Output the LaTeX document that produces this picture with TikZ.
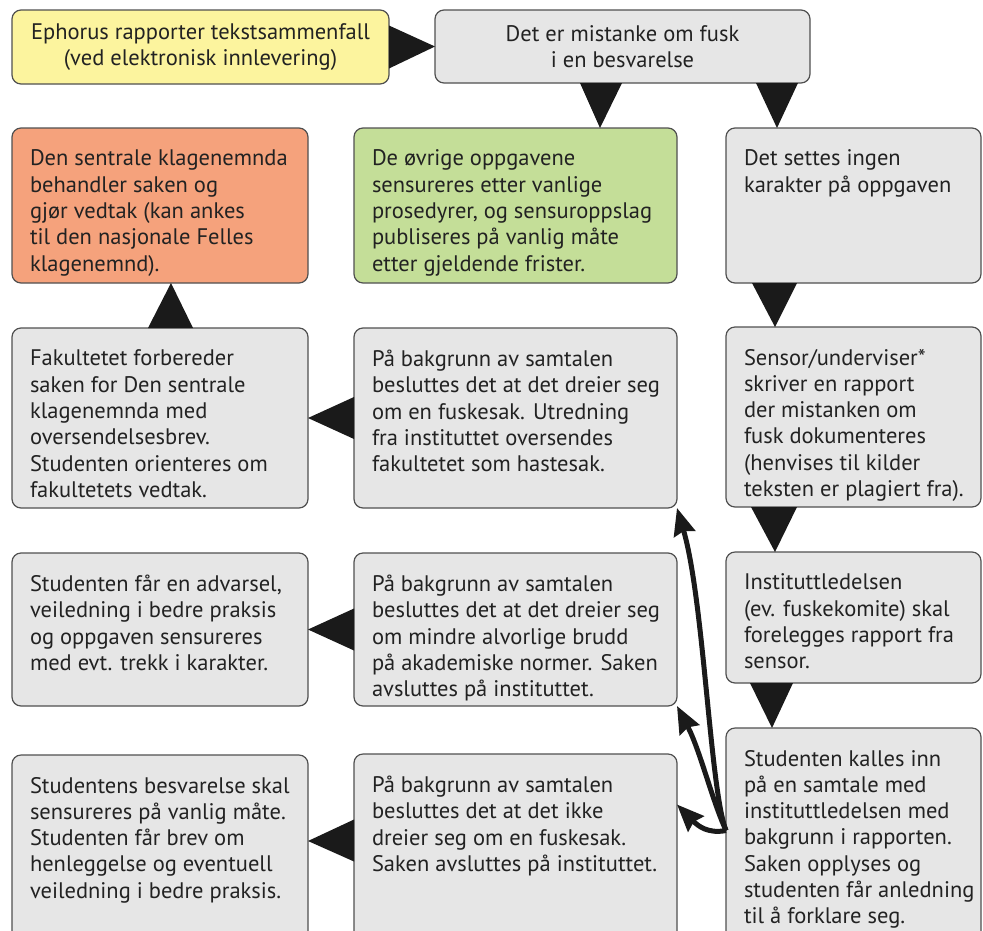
\documentclass[tikz,border=0pt]{standalone}
\usepackage{fontspec}
\setmainfont{PT Sans}
\usetikzlibrary{arrows.meta}
\definecolor{boxgray}{HTML}{E6E6E6}
\definecolor{boxline}{HTML}{505050}
\definecolor{boxyellow}{HTML}{FCF49E}
\definecolor{boxorange}{HTML}{F5A27C}
\definecolor{boxgreen}{HTML}{C4DE98}
\definecolor{txt}{HTML}{222222}
\definecolor{tri}{HTML}{1A1A1A}
\tikzset{
  base/.style={draw=boxline, line width=1.2pt, rounded corners=9pt, inner sep=0pt, outer sep=0pt,
    font=\fontsize{22.5}{26.3}\selectfont, text=txt},
  graybox/.style={base, fill=boxgray},
  yellowbox/.style={base, fill=boxyellow, align=center},
  orangebox/.style={base, fill=boxorange},
  greenbox/.style={base, fill=boxgreen},
  centerbox/.style={base, fill=boxgray, align=center},
  wedge/.style={fill=tri, draw=none},
  curvearrow/.style={draw=tri, line width=5pt, -{Stealth[length=27pt,width=22pt,inset=3pt]}}
}
% style, name, x1, y1, x2, y2, text (top-left aligned)
\newcommand\flowbox[7]{%
  \node[#1, anchor=north west, minimum width={(#5-#3)*1pt}, minimum height={(#6-#4)*1pt}] (#2) at (#3,#4)
  {\hspace*{18pt}\parbox[c][\dimexpr#6pt-#4pt-44pt\relax][t]{\dimexpr#5pt-#3pt-18pt\relax}{\raggedright #7}};}
\newcommand\centerflowbox[7]{%
  \node[#1, anchor=north west, minimum width={(#5-#3)*1pt}, minimum height={(#6-#4)*1pt}] (#2) at (#3,#4) {#7};}
\begin{document}
\begin{tikzpicture}[x=1pt, y=-1pt]
\clip (0,0) rectangle (983,930);
\fill[white] (0,0) rectangle (983,930);

\centerflowbox{yellowbox}{ephorus}{12}{10}{389}{84}{Ephorus rapporter tekstsammenfall\\(ved elektronisk innlevering)}
\centerflowbox{centerbox}{suspect}{435}{10}{810}{83}{Det er mistanke om fusk\\i en besvarelse}

\flowbox{orangebox}{board}{12}{128}{308}{283}{Den sentrale klagenemnda\\behandler saken og\\gjør vedtak (kan ankes\\til den nasjonale Felles\\klagenemnd).}
\flowbox{greenbox}{others}{354}{128}{677}{283}{De øvrige oppgavene\\sensureres etter vanlige\\prosedyrer, og sensuroppslag\\publiseres på vanlig måte\\etter gjeldende frister.}
\flowbox{graybox}{nograde}{726}{128}{981}{283}{Det settes ingen\\karakter på oppgaven}

\flowbox{graybox}{faculty}{12}{328}{308}{508}{Fakultetet forbereder\\saken for Den sentrale\\klagenemnda med\\oversendelsesbrev.\\Studenten orienteres om\\fakultetets vedtak.}
\flowbox{graybox}{cheat}{354}{328}{677}{508}{På bakgrunn av samtalen\\besluttes det at det dreier seg\\om en fuskesak. Utredning\\fra instituttet oversendes\\fakultetet som hastesak.}
\flowbox{graybox}{report}{726}{327}{981}{507}{Sensor/underviser*\\skriver en rapport\\der mistanken om\\fusk dokumenteres\\(henvises til kilder\\teksten er plagiert fra).}

\flowbox{graybox}{warning}{12}{553}{308}{706}{Studenten får en advarsel,\\veiledning i bedre praksis\\og oppgaven sensureres\\med evt. trekk i karakter.}
\flowbox{graybox}{minor}{354}{553}{677}{706}{På bakgrunn av samtalen\\besluttes det at det dreier seg\\om mindre alvorlige brudd\\på akademiske normer. Saken\\avsluttes på instituttet.}
\flowbox{graybox}{dept}{726}{552}{981}{683}{Instituttledelsen\\(ev. fuskekomite) skal\\forelegges rapport fra\\sensor.}

\flowbox{graybox}{normal}{12}{755}{308}{945}{Studentens besvarelse skal\\sensureres på vanlig måte.\\Studenten får brev om\\henleggelse og eventuell\\veiledning i bedre praksis.}
\flowbox{graybox}{nocheat}{354}{754}{677}{945}{På bakgrunn av samtalen\\besluttes det at det ikke\\dreier seg om en fuskesak.\\Saken avsluttes på instituttet.}
\flowbox{graybox}{meeting}{726}{728}{981}{945}{Studenten kalles inn\\på en samtale med\\instituttledelsen med\\bakgrunn i rapporten.\\Saken opplyses og\\studenten får anledning\\til å forklare seg.}

% wedge connectors
\fill[wedge] ([yshift=21.5pt]ephorus.east) -- ([yshift=-21.5pt]ephorus.east) -- (suspect.west) -- cycle;
\fill[wedge] ([xshift=145pt]suspect.south west) -- ([xshift=187pt]suspect.south west) -- ([xshift=246pt]others.north west) -- cycle;
\fill[wedge] ([xshift=321pt]suspect.south west) -- ([xshift=363pt]suspect.south west) -- ([xshift=51pt]nograde.north west) -- cycle;
\fill[wedge] ([xshift=26pt]nograde.south west) -- ([xshift=71pt]nograde.south west) -- ([xshift=49pt]report.north west) -- cycle;
\fill[wedge] ([xshift=25pt]report.south west) -- ([xshift=71pt]report.south west) -- ([xshift=49pt]dept.north west) -- cycle;
\fill[wedge] ([xshift=24pt]dept.south west) -- ([xshift=67pt]dept.south west) -- ([xshift=46pt]meeting.north west) -- cycle;
\fill[wedge] ([xshift=-12pt]faculty.north) -- ([xshift=33pt]faculty.north) -- ([xshift=11pt]board.south) -- cycle;
\fill[wedge] ([yshift=21pt]cheat.west) -- ([yshift=-21pt]cheat.west) -- (faculty.east) -- cycle;
\fill[wedge] ([yshift=21pt]minor.west) -- ([yshift=-21pt]minor.west) -- (warning.east) -- cycle;
\fill[wedge] ([yshift=30pt]nocheat.west) -- ([yshift=-12pt]nocheat.west) -- ([yshift=9pt]normal.east) -- cycle;

% curved arrows from the meeting box
\coordinate (start) at ([yshift=6pt]meeting.west);
\draw[curvearrow] (start) .. controls (710,790) and (704,600) .. (cheat.south east);
\draw[curvearrow] (start) .. controls (712,800) and (700,750) .. (minor.south east);
\draw[curvearrow] (start) .. controls (708,834) and (698,826) .. ([yshift=45pt]nocheat.east);
\end{tikzpicture}
\end{document}
